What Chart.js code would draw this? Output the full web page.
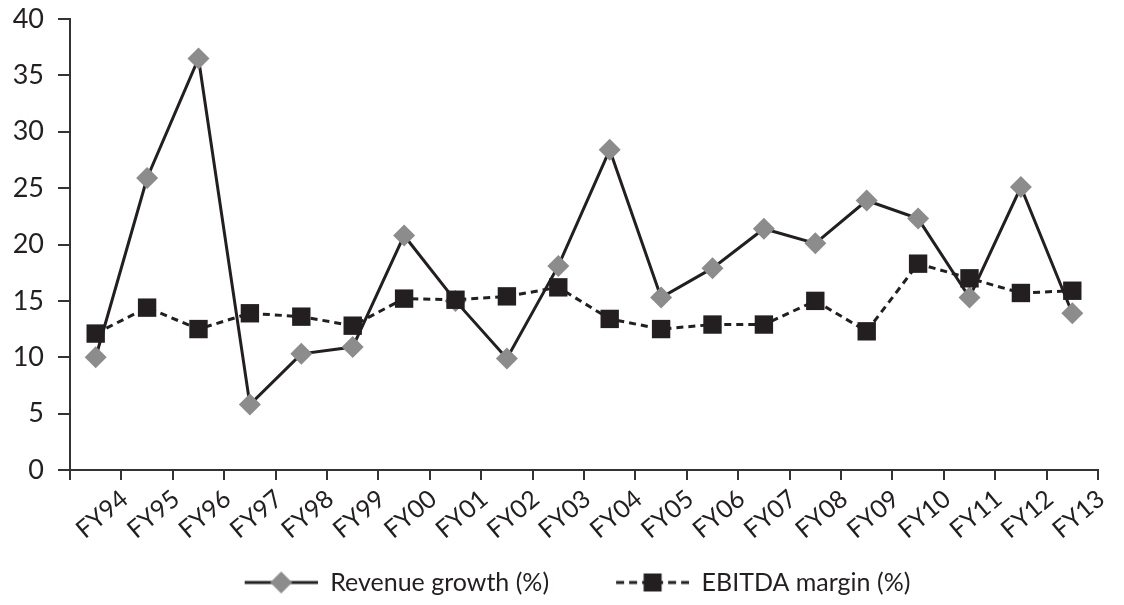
<!DOCTYPE html>
<html>
<head>
<meta charset="utf-8">
<script src="https://cdn.jsdelivr.net/npm/chart.js@4.4.1/dist/chart.umd.min.js"></script>
<style>
  body { margin: 0; background: #fff; }
  #wrap { width: 1124px; height: 605px; position: relative; }
</style>
</head>
<body>
<div id="wrap"><canvas id="chart"></canvas></div>
<script>
// data
const years = ['FY94', 'FY95', 'FY96', 'FY97', 'FY98', 'FY99', 'FY00', 'FY01', 'FY02', 'FY03',
               'FY04', 'FY05', 'FY06', 'FY07', 'FY08', 'FY09', 'FY10', 'FY11', 'FY12', 'FY13'];
const revenueGrowth = [10.0, 25.9, 36.5, 5.8, 10.3, 10.9, 20.8, 15.0, 9.9, 18.1,
                       28.4, 15.3, 17.9, 21.4, 20.1, 23.9, 22.3, 15.3, 25.1, 13.9];
const ebitdaMargin = [12.1, 14.4, 12.5, 13.9, 13.6, 12.8, 15.2, 15.1, 15.4, 16.2,
                      13.4, 12.5, 12.9, 12.9, 15.0, 12.3, 18.3, 17.0, 15.7, 15.9];
const yTicks = [0, 5, 10, 15, 20, 25, 30, 35, 40];

const ink = '#231f20';
const grey = '#8c8c8c';
const fontFam = 'Lato, "Open Sans", sans-serif';

// legend glyphs: line with marker in the middle
function legendGlyph(dashed) {
    const c = document.createElement('canvas');
    c.width = 130; c.height = 26;
    const g = c.getContext('2d');
    g.strokeStyle = ink;
    g.lineWidth = 3;
    if (dashed) g.setLineDash([8, 5]);
    g.beginPath();
    g.moveTo(57, 13); g.lineTo(130, 13);
    g.stroke();
    const cx = 93.5;
    if (dashed) {
        g.fillStyle = ink;
        g.fillRect(cx - 9, 4, 18, 18);
    } else {
        g.fillStyle = grey;
        g.beginPath();
        g.moveTo(cx, 2); g.lineTo(cx + 11, 13); g.lineTo(cx, 24); g.lineTo(cx - 11, 13);
        g.closePath();
        g.fill();
    }
    return c;
}
const glyphs = [legendGlyph(false), legendGlyph(true)];

new Chart(document.getElementById('chart'), {
    type: 'line',
    data: {
        labels: years,
        datasets: [{
            label: 'Revenue growth (%)',
            data: revenueGrowth,
            borderColor: ink,
            borderWidth: 3,
            pointStyle: 'rectRot',
            pointRadius: 11,
            pointBackgroundColor: grey,
            pointBorderWidth: 0,
            tension: 0,
            order: 1
        }, {
            label: 'EBITDA margin (%)',
            data: ebitdaMargin,
            borderColor: ink,
            borderWidth: 3,
            borderDash: [7, 5],
            pointStyle: 'rect',
            pointRadius: 13,
            pointBackgroundColor: ink,
            pointBorderWidth: 0,
            tension: 0,
            order: 0
        }]
    },
    options: {
        responsive: true,
        maintainAspectRatio: false,
        animation: false,
        layout: { padding: { top: 19, right: 26, left: 0, bottom: 0 } },
        plugins: {
            tooltip: { enabled: false },
            legend: {
                position: 'bottom',
                labels: {
                    usePointStyle: true,
                    pointStyleWidth: 130,
                    padding: 10,
                    color: ink,
                    font: { family: fontFam, size: 25 },
                    sort: (a, b) => a.datasetIndex - b.datasetIndex,
                    generateLabels: (chart) => {
                        const items = Chart.defaults.plugins.legend.labels.generateLabels(chart);
                        items.forEach(it => { it.pointStyle = glyphs[it.datasetIndex]; });
                        return items;
                    }
                }
            }
        },
        scales: {
            x: {
                type: 'category',
                offset: true,
                grid: { offset: true, drawOnChartArea: false, drawTicks: true, tickLength: 10, color: '#333', lineWidth: 2 },
                border: { display: true, color: '#333', width: 2 },
                ticks: {
                    autoSkip: false,
                    minRotation: 40,
                    maxRotation: 40,
                    labelOffset: 29,
                    padding: 4,
                    color: ink,
                    font: { family: fontFam, size: 25 }
                },
                afterFit: (s) => { s.height = 90; }
            },
            y: {
                min: 0,
                max: 40,
                grid: { drawOnChartArea: false, drawTicks: true, tickLength: 12, color: '#333', lineWidth: 2 },
                border: { display: true, color: '#333', width: 2 },
                afterBuildTicks: (s) => { s.ticks = yTicks.map(v => ({ value: v })); },
                ticks: {
                    padding: 14,
                    color: ink,
                    font: { family: fontFam, size: 27 }
                },
                afterFit: (s) => { s.width = 70; s.paddingTop = 0; s.paddingBottom = 0; }
            }
        }
    }
});
</script>
</body>
</html>
